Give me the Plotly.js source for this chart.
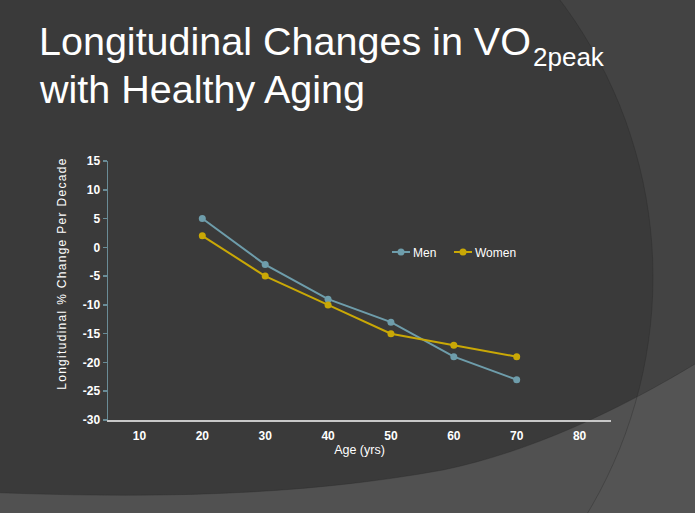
<!DOCTYPE html>
<html>
<head>
<meta charset="utf-8">
<script src="https://cdn.plot.ly/plotly-3.0.1.min.js"></script>
<style>
html,body{margin:0;padding:0;background:#3a3a3a;}
#chart{width:695px;height:513px;}
</style>
</head>
<body>
<div id="chart"></div>
<script>
// ---- data ----
var ages = [20, 30, 40, 50, 60, 70];
var menChange = [5, -3, -9, -13, -19, -23];
var womenChange = [2, -5, -10, -15, -17, -19];
var seriesNames = ["Men", "Women"];
var xTicks = [10, 20, 30, 40, 50, 60, 70, 80];
var yTicks = [15, 10, 5, 0, -5, -10, -15, -20, -25, -30];
var titleMain = "Longitudinal Changes in VO";
var titleSub = "2peak";
var titleLine2 = "with Healthy Aging";
var xTitle = "Age (yrs)";
var yTitle = "Longitudinal % Change Per Decade";

// ---- layout geometry (pixels) ----
var W = 695, H = 513;
var L = 108, R = 611, T = 161, B = 420;
function px(x) { return (x - L) / (R - L); }
function py(y) { return (B - y) / (B - T); }
function P(x, y) { return px(x).toFixed(4) + "," + py(y).toFixed(4); }

// decorative arc region (right side)
var cx = 194, cy = 277, rr = 459;
var arcPts = [];
for (var a = -42; a <= 36; a += 2) {
  var t = a * Math.PI / 180;
  arcPts.push([cx + rr * Math.cos(t), cy + rr * Math.sin(t)]);
}
var rightPath = "M" + arcPts.map(function (p) { return P(p[0], p[1]); }).join(" L") +
  " L" + P(760, 600) + " L" + P(760, -60) + " Z";
var arcLine = "M" + arcPts.map(function (p) { return P(p[0], p[1]); }).join(" L");

var bottomCurve = "M" + P(-20, 492) + " C" + P(150, 499) + " " + P(300, 496) + " " + P(443, 470) +
  " C" + P(530, 452) + " " + P(620, 410) + " " + P(700, 361);
var bottomPath = bottomCurve + " L" + P(760, 330) + " L" + P(760, 600) + " L" + P(-20, 600) + " Z";

var menColor = "#6e9dab";
var womenColor = "#c9a806";

var traces = [
  {x: ages, y: menChange, name: seriesNames[0], type: "scatter", mode: "lines+markers",
   line: {color: menColor, width: 2}, marker: {color: menColor, size: 7}},
  {x: ages, y: womenChange, name: seriesNames[1], type: "scatter", mode: "lines+markers",
   line: {color: womenColor, width: 2}, marker: {color: womenColor, size: 7}}
];

var font = "Arial, 'Liberation Sans', sans-serif";

var layout = {
  width: W, height: H,
  paper_bgcolor: "#3a3a3a",
  plot_bgcolor: "rgba(0,0,0,0)",
  margin: {l: L, r: W - R, t: T, b: H - B, pad: 0},
  showlegend: true,
  legend: {orientation: "h", x: px(375), y: py(252), xanchor: "left", yanchor: "middle",
           bgcolor: "rgba(0,0,0,0)", font: {family: font, size: 12, color: "#ffffff"},
           itemwidth: 30},
  xaxis: {range: [5, 85], tickvals: xTicks, ticktext: xTicks.map(String),
          showgrid: false, zeroline: false, showline: true, linecolor: "#c8c8c8", linewidth: 1.5,
          ticks: "", ticklabelstandoff: 4,
          tickfont: {family: font, size: 12, color: "#ffffff", weight: "bold"},
          title: {text: xTitle, font: {family: font, size: 12.5, color: "#ffffff"}, standoff: 3},
          fixedrange: true},
  yaxis: {range: [-30, 15], tickvals: yTicks, ticktext: yTicks.map(String),
          showgrid: false, zeroline: false, showline: true, linecolor: "#6a8c97", linewidth: 1.5,
          ticks: "outside", ticklen: 4, tickcolor: "#6a8c97", tickwidth: 1.5,
          tickfont: {family: font, size: 12, color: "#ffffff", weight: "bold"},
          fixedrange: true},
  shapes: [
    {type: "path", xref: "paper", yref: "paper", path: rightPath, layer: "below",
     fillcolor: "rgba(72,72,72,0.62)", line: {width: 0}},
    {type: "path", xref: "paper", yref: "paper", path: bottomPath, layer: "below",
     fillcolor: "rgba(95,95,95,0.62)", line: {width: 0}},
    {type: "path", xref: "paper", yref: "paper", path: arcLine, layer: "below",
     line: {color: "rgba(40,40,40,0.35)", width: 1}},
    {type: "path", xref: "paper", yref: "paper", path: bottomCurve, layer: "below",
     line: {color: "rgba(40,40,40,0.35)", width: 1}}
  ],
  annotations: [
    {text: titleMain, xref: "paper", yref: "paper",
     x: px(38), y: py(64), xanchor: "left", yanchor: "bottom", showarrow: false, align: "left",
     font: {family: font, size: 39.5, color: "#ffffff"}, borderpad: 0},
    {text: titleSub, xref: "paper", yref: "paper",
     x: px(532), y: py(73), xanchor: "left", yanchor: "bottom", showarrow: false, align: "left",
     font: {family: font, size: 26, color: "#ffffff"}, borderpad: 0},
    {text: titleLine2, xref: "paper", yref: "paper",
     x: px(38), y: py(112), xanchor: "left", yanchor: "bottom", showarrow: false, align: "left",
     font: {family: font, size: 39.5, color: "#ffffff"}, borderpad: 0},
    {text: yTitle, xref: "paper", yref: "paper",
     x: px(62), y: py(274), xanchor: "center", yanchor: "middle", showarrow: false,
     textangle: -90, font: {family: font, size: 12, color: "#ffffff"}}
  ]
};

Plotly.newPlot("chart", traces, layout, {displayModeBar: false, staticPlot: true}).then(function () {
  var ann = document.querySelectorAll(".annotation-text");
  ann.forEach(function (el) {
    if (el.textContent === yTitle) { el.style.letterSpacing = "1.3px"; }
  });
  var groups = document.querySelectorAll(".legend .traces");
  var firstX = null, firstY = null;
  groups.forEach(function (g, i) {
    var ln = g.querySelector(".legendlines path");
    if (ln) ln.setAttribute("d", "M17,0h18");
    var pt = g.querySelector(".legendpoints path");
    if (pt) pt.setAttribute("transform", "translate(26,0)");
    var tx = g.querySelector("text.legendtext");
    if (tx) tx.setAttribute("x", "38");
    var tr = g.getAttribute("transform") || "";
    var m = tr.match(/translate\(\s*([-\d.]+)[ ,]+([-\d.]+)\s*\)/);
    if (m) {
      if (i === 0) { firstX = parseFloat(m[1]); firstY = parseFloat(m[2]); }
      else if (firstX !== null) {
        g.setAttribute("transform", "translate(" + (firstX + 62 * i) + "," + firstY + ")");
      }
    }
  });
});
</script>
</body>
</html>
